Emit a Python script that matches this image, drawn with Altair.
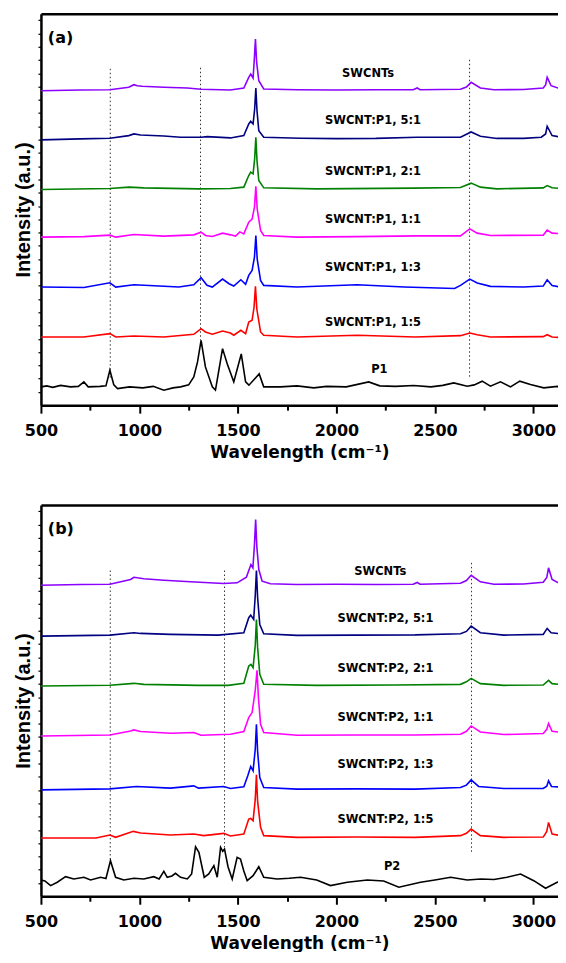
import altair as alt
import pandas as pd

# ---------------- panel (a) data: Raman shift (cm-1) and relative intensity ----------------
A_SWCNT_X = [500, 700, 850, 946, 972, 989, 1014, 1124, 1243, 1313, 1462, 1530, 1555, 1565, 1577, 1583, 1589, 1595, 1606, 1631,
             1800, 2000, 2200, 2390, 2410, 2425, 2630, 2660, 2684, 2731, 2800, 2950, 3050, 3062, 3070, 3090, 3125, 3168]
A_SWCNT_Y = [-0.7, 0, 0.3, 2.7, 5.3, 4.3, 3.7, 2.7, 2, 0.7, 0, 2, 12.7, 16, 12, 30, 51, 28, 9.3, 1,
             0.3, 0, 0.3, 0.3, 2, 0.3, 0.7, 3, 7.7, 2, 0.3, 0.5, 2, 5, 12.7, 4.3, 2, 1]

A_51_X = [500, 700, 850, 946, 972, 1006, 1124, 1209, 1313, 1344, 1462, 1530, 1555, 1565, 1577, 1585, 1591, 1597, 1606, 1631,
          1818, 2000, 2200, 2410, 2630, 2684, 2731, 2815, 2950, 3040, 3062, 3070, 3095, 3168]
A_51_Y = [-1, 0, 0.7, 3.3, 5, 4, 3, 1.7, 1.7, 2.3, 1, 3.3, 15, 17.6, 15, 30, 51, 28, 8.3, 1.7,
          0.7, 0.3, 0.5, 1.7, 1.7, 7, 2.7, 0.5, 0.5, 1.7, 5, 12.7, 3.3, 1]

A_21_X = [500, 850, 946, 1022, 1300, 1462, 1530, 1555, 1565, 1577, 1585, 1591, 1597, 1606, 1631, 1900, 2392, 2630, 2684, 2731,
          2815, 3050, 3070, 3095, 3168]
A_21_Y = [-0.7, 0.3, 1.7, 1, 0, 0.3, 1.7, 13.3, 16.7, 15, 30, 51.7, 28, 8.3, 1, 0, 0.7, 1.3, 5.7, 1.7,
          0, 1, 3.3, 1, 0]

A_11_X = [500, 718, 850, 880, 972, 1124, 1276, 1313, 1335, 1370, 1422, 1462, 1488, 1510, 1530, 1555, 1572, 1584, 1591, 1598,
          1615, 1631, 1800, 2100, 2410, 2630, 2677, 2715, 2782, 3050, 3070, 3095, 3168]
A_11_Y = [0, 0.5, 2, 0, 2.7, 1, 2.3, 5, 1.7, 0.7, 4, 2.3, 1, 5.3, 3.3, 15, 18, 30, 51, 28,
          6.7, 1.7, 0, 0.5, 1.3, 1.3, 8.3, 4, 1.7, 2, 7, 4, 3]

A_13_X = [500, 718, 850, 880, 972, 1050, 1200, 1276, 1313, 1343, 1370, 1422, 1455, 1479, 1515, 1539, 1555, 1572, 1584, 1591,
          1598, 1615, 1631, 1800, 2105, 2345, 2600, 2630, 2677, 2715, 2782, 2950, 3050, 3070, 3095, 3168]
A_13_Y = [0, -0.5, 4.3, 0, 2.3, 1.5, 0, 2.3, 9.3, 1.7, 0, 8, 3.3, 1, 7.3, 2.7, 11.7, 16.7, 30, 51.7,
          28, 6.7, 1.7, 0, 2.3, 0, -1.5, 1.7, 8, 4, 0.7, 0, 1, 7.3, 1.5, -1]

A_15_X = [500, 718, 850, 880, 972, 1124, 1276, 1313, 1335, 1370, 1422, 1462, 1479, 1515, 1539, 1555, 1572, 1582, 1589, 1596,
          1615, 1631, 1800, 2105, 2400, 2630, 2677, 2715, 2782, 3050, 3070, 3095, 3168]
A_15_Y = [0, 0, 3.3, 0, 1, 0, 2.7, 8.3, 5, 2.7, 6, 4, 1.7, 6.7, 3.3, 15, 16.7, 30, 50.7, 28,
          5, 1.7, 0, 1.7, 0, 1.3, 4, 2.3, 0, 0.3, 2.3, 0, -1]

A_P1_X = [500, 530, 560, 600, 650, 690, 718, 740, 800, 830, 850, 870, 889, 950, 1017, 1070, 1124, 1170, 1209, 1250,
          1276, 1295, 1313, 1335, 1370, 1386, 1422, 1446, 1479, 1517, 1539, 1556, 1608, 1631, 1716, 1800, 1885, 1950, 2050, 2164,
          2220, 2300, 2392, 2480, 2540, 2596, 2664, 2700, 2740, 2782, 2833, 2884, 2931, 2985, 3053, 3121, 3154, 3168]
A_P1_Y = [0, 1, -0.5, 1.5, 0, 0.5, 5, 0, 0.5, 1, 16.7, 2, -1.7, 0, -1, 0.5, -3.3, -1, 0, 2,
          10, 25, 46.7, 20, 0, -3.3, 38.3, 23, 5, 33, 5, 1.7, 13, 0, 0, 1, -1, 0.5, 0, 5,
          1, 0.5, 1.3, 0, 1.5, 4, 0.7, 2, 5.7, 0.7, 5, 0, 5.7, 2.3, -1, 0.5, -2.7, -1.5]

A_NAMES = ["SWCNTs", "SWCNT:P1, 5:1", "SWCNT:P1, 2:1", "SWCNT:P1, 1:1", "SWCNT:P1, 1:3", "SWCNT:P1, 1:5", "P1"]
A_OFFSETS = [315.7, 266.7, 216.7, 168.3, 118.3, 68.3, 18.3]
A_LABEL_X = [2161, 2186, 2186, 2186, 2186, 2186, 2218]
A_LABEL_Y = [331.7, 285, 233.3, 185, 137.7, 82.7, 35]
A_GUIDE_X = [852, 1310, 2676]
A_GUIDE_TOP = [337, 338, 346]
A_GUIDE_BOTTOM = [25, 65, 27]

# ---------------- panel (b) data ----------------
B_SWCNT_X = [500, 700, 850, 955, 972, 989, 1022, 1124, 1259, 1428, 1496, 1543, 1566, 1576, 1584, 1590, 1596, 1606, 1623, 1665,
             1800, 2000, 2200, 2390, 2410, 2425, 2630, 2660, 2684, 2731, 2800, 2950, 3050, 3068, 3077, 3095, 3130, 3168]
B_SWCNT_Y = [-0.7, 0, 0.3, 5, 7.3, 6.7, 5.7, 4.3, 2.7, 1, 1.7, 7.3, 20, 16.7, 40, 65, 38, 15, 3.3, 0.7,
             0, 0.3, 0, 0.3, 2, 0.3, 1.3, 4, 9.3, 2.7, 0.3, 0.5, 2.3, 7, 16.7, 5, 1.3, 0.7]

B_51_X = [500, 850, 972, 1006, 1158, 1400, 1530, 1555, 1565, 1580, 1588, 1594, 1600, 1611, 1631, 1800, 2100, 2400, 2630, 2660,
          2684, 2731, 2850, 3050, 3070, 3090, 3168]
B_51_Y = [-0.7, 0.3, 2.7, 2, 1, 0.3, 2.7, 17.7, 20.3, 16, 40, 65, 38, 11, 1.7, 0, 0.3, 0.5, 1.7, 4,
          9.3, 2.7, 0.3, 1, 7, 2.7, 1]

B_21_X = [500, 850, 972, 1022, 1300, 1450, 1530, 1555, 1566, 1577, 1588, 1594, 1600, 1611, 1631, 1900, 2300, 2630, 2660, 2684,
          2731, 2850, 3050, 3077, 3095, 3168]
B_21_Y = [-0.7, 0, 2, 1, 0, 0, 2, 19.3, 21, 17.7, 40, 66, 38, 11, 1, 0, 0.3, 1, 3.5, 7,
          1.7, 0, 0.3, 5, 1.7, 0.3]

B_11_X = [500, 850, 955, 972, 1006, 1158, 1276, 1313, 1462, 1530, 1555, 1572, 1588, 1597, 1604, 1615, 1631, 1800, 2100, 2400,
          2630, 2660, 2684, 2731, 2850, 3050, 3068, 3077, 3095, 3168]
B_11_Y = [-0.7, 0.3, 4.3, 5.3, 3.7, 2, 2.7, 0, 1, 3.7, 17.7, 22.7, 45, 65, 38, 11, 2.7, 0, 0.3, 0.3,
          1, 4, 9.3, 3.3, 0.7, 1.7, 6, 11.7, 4, 2.3]

B_13_X = [500, 850, 985, 1158, 1276, 1300, 1428, 1462, 1530, 1550, 1565, 1577, 1588, 1594, 1600, 1611, 1631, 1800, 2100, 2400,
          2630, 2660, 2684, 2722, 2850, 3050, 3068, 3077, 3092, 3168]
B_13_Y = [-0.7, 0.3, 2.7, 1, 3.3, 1, 2.7, 0.7, 2.3, 13.3, 22.7, 18.3, 40, 65, 38, 11.7, 1.7, 0, 0.3, 0,
          1.7, 4, 9.3, 2.7, 0.7, 0.7, 3, 8.3, 2.7, 1.7]

B_15_X = [500, 780, 850, 879, 969, 1006, 1158, 1276, 1326, 1428, 1462, 1530, 1555, 1565, 1577, 1588, 1594, 1600, 1615, 1631,
          1800, 2100, 2400, 2630, 2660, 2684, 2731, 2850, 3050, 3068, 3077, 3095, 3168]
B_15_Y = [-0.7, -0.7, 2.3, 0, 6, 4.3, 2.3, 3.3, 1.7, 4, 1.3, 3.3, 18.3, 19, 16.7, 38, 62.7, 36, 10, 1.7,
          0, 0.3, 0, 1.7, 4, 8.3, 1.7, 0, 0.3, 6, 15, 3.3, 0.7]

B_P2_X = [500, 520, 549, 583, 625, 667, 718, 752, 803, 830, 853, 879, 921, 972, 1022, 1073, 1100, 1124, 1141, 1165,
          1183, 1209, 1243, 1265, 1285, 1302, 1329, 1352, 1378, 1395, 1412, 1423, 1432, 1450, 1471, 1496, 1513, 1530, 1547, 1577,
          1606, 1631, 1699, 1760, 1818, 1900, 1970, 2055, 2157, 2240, 2317, 2427, 2500, 2580, 2664, 2734, 2800, 2866, 2935, 3002,
          3062, 3121, 3168]
B_P2_Y = [-1, -2, -6.7, -3.3, 2.3, 0, 1.7, -1, 1.7, 0.5, 18.3, 1.7, -1, 0.7, 0, 2.3, 0, 7.7, 1.7, 3,
          5.7, 1.7, 0, 5, 32.3, 26.7, 1.7, 5, 13.3, 1.7, 31.7, 27.7, 30, 12, 0, 21.7, 20, 8, -1.7, 3.3,
          12.3, 1.7, 0, 0.7, 1.7, -1, -6.6, -3.3, -1, -2, -8.3, -3.3, -1, 1.7, -1, 0, -0.5, 1.7, 5, -1.7,
          -9.3, -3.3, -1]

B_NAMES = ["SWCNTs", "SWCNT:P2, 5:1", "SWCNT:P2, 2:1", "SWCNT:P2, 1:1", "SWCNT:P2, 1:3", "SWCNT:P2, 1:5", "P2"]
B_OFFSETS = [312.3, 261.3, 211.3, 161.3, 107.3, 59, 17.3]
B_LABEL_X = [2223, 2249, 2249, 2249, 2249, 2249, 2283]
B_LABEL_Y = [325, 277.3, 227.3, 179, 131, 76, 29]
B_GUIDE_X = [852, 1432, 2686]
B_GUIDE_TOP = [326.3, 326.3, 334]
B_GUIDE_BOTTOM = [36, 49, 44]

COLORS = ["#8B00FF", "#000080", "#008000", "#FF00FF", "#0000FF", "#FF0000", "#000000"]
X_DOMAIN = [500, 3125]
Y_DOMAIN = [0, 392]
X_TICKS = [500, 750, 1000, 1250, 1500, 1750, 2000, 2250, 2500, 2750, 3000]
Y_TICKS = [round(i * 13.3, 1) for i in range(1, 30)]
LETTER_X = 535
LETTER_Y = 368

x_axis = alt.Axis(
    values=X_TICKS, format="d",
    labelExpr="datum.value % 500 === 0 ? datum.label : ''",
    tickSize={"condition": {"test": "datum.value % 500 === 0", "value": 8}, "value": 5},
    tickWidth=2, tickColor="black", domainColor="black", domainWidth=2.5,
    labelFont="DejaVu Sans", labelFontWeight="bold", labelFontSize=16, labelColor="black",
    labelPadding=9, labelFlush=False, labelOverlap=False,
    title="Wavelength (cm⁻¹)", titleFont="DejaVu Sans", titleFontWeight="bold",
    titleFontSize=17, titleColor="black", titlePadding=6, grid=False,
)
top_axis = alt.Axis(
    orient="top", labels=False, ticks=False, domainColor="black", domainWidth=2.5,
    title=None, grid=False,
)
y_axis = alt.Axis(
    values=Y_TICKS, labels=False, tickSize=3, tickWidth=1.2, tickColor="black",
    domainColor="black", domainWidth=2.5,
    title="Intensity (a.u.)", titleFont="Liberation Sans", titleFontWeight="bold",
    titleFontSize=20, titleColor="black", titlePadding=4, grid=False,
)


def panel(xs, ys, offsets, names, lab_x, lab_y, g_x, g_top, g_bot, letter):
    rows = []
    for name, col, xv, yv, off in zip(names, COLORS, xs, ys, offsets):
        assert len(xv) == len(yv), name
        for a, b in zip(xv, yv):
            rows.append({"wn": a, "inten": b + off, "series": name, "col": col})
    df = pd.DataFrame(rows)
    xs_scale = alt.Scale(domain=X_DOMAIN, nice=False, zero=False)
    ys_scale = alt.Scale(domain=Y_DOMAIN, nice=False, zero=False)

    lines = alt.Chart(df).mark_line(strokeWidth=1.6, clip=True).encode(
        x=alt.X("wn:Q", scale=xs_scale, axis=x_axis),
        y=alt.Y("inten:Q", scale=ys_scale, axis=y_axis),
        color=alt.Color("col:N", scale=None),
        detail="series:N",
    )
    gdf = pd.DataFrame({"wn": g_x, "top": g_top, "bot": g_bot})
    guides = alt.Chart(gdf).mark_rule(strokeDash=[1.5, 2.5], color="#333333", strokeWidth=1).encode(
        x=alt.X("wn:Q", scale=xs_scale, axis=None),
        y=alt.Y("top:Q", scale=ys_scale, axis=y_axis),
        y2="bot:Q",
    )
    ldf = pd.DataFrame({"wn": lab_x, "yy": lab_y, "name": names})
    labels = alt.Chart(ldf).mark_text(
        font="DejaVu Sans", fontWeight="bold", fontSize=11.5, color="black",
        align="center", baseline="middle",
    ).encode(
        x=alt.X("wn:Q", scale=xs_scale, axis=None),
        y=alt.Y("yy:Q", scale=ys_scale, axis=y_axis),
        text="name:N",
    )
    tdf = pd.DataFrame({"wn": [LETTER_X], "yy": [LETTER_Y], "t": [letter]})
    tag = alt.Chart(tdf).mark_text(
        font="DejaVu Sans", fontWeight="bold", fontSize=16, color="black",
        align="left", baseline="middle",
    ).encode(
        x=alt.X("wn:Q", scale=xs_scale, axis=top_axis),
        y=alt.Y("yy:Q", scale=ys_scale, axis=y_axis),
        text="t:N",
    )
    return (
        alt.layer(guides, lines, labels, tag)
        .resolve_axis(x="independent")
        .properties(width=518, height=392)
    )


panel_a = panel([A_SWCNT_X, A_51_X, A_21_X, A_11_X, A_13_X, A_15_X, A_P1_X],
                [A_SWCNT_Y, A_51_Y, A_21_Y, A_11_Y, A_13_Y, A_15_Y, A_P1_Y],
                A_OFFSETS, A_NAMES, A_LABEL_X, A_LABEL_Y, A_GUIDE_X, A_GUIDE_TOP, A_GUIDE_BOTTOM, "(a)")
panel_b = panel([B_SWCNT_X, B_51_X, B_21_X, B_11_X, B_13_X, B_15_X, B_P2_X],
                [B_SWCNT_Y, B_51_Y, B_21_Y, B_11_Y, B_13_Y, B_15_Y, B_P2_Y],
                B_OFFSETS, B_NAMES, B_LABEL_X, B_LABEL_Y, B_GUIDE_X, B_GUIDE_TOP, B_GUIDE_BOTTOM, "(b)")

chart = alt.vconcat(panel_a, panel_b, spacing=45).properties(
    padding={"left": 5, "top": 5, "right": 0, "bottom": 0},
    background="white",
).configure_view(stroke=None)

chart.save("out.html", embed_options={"renderer": "svg", "actions": False})
